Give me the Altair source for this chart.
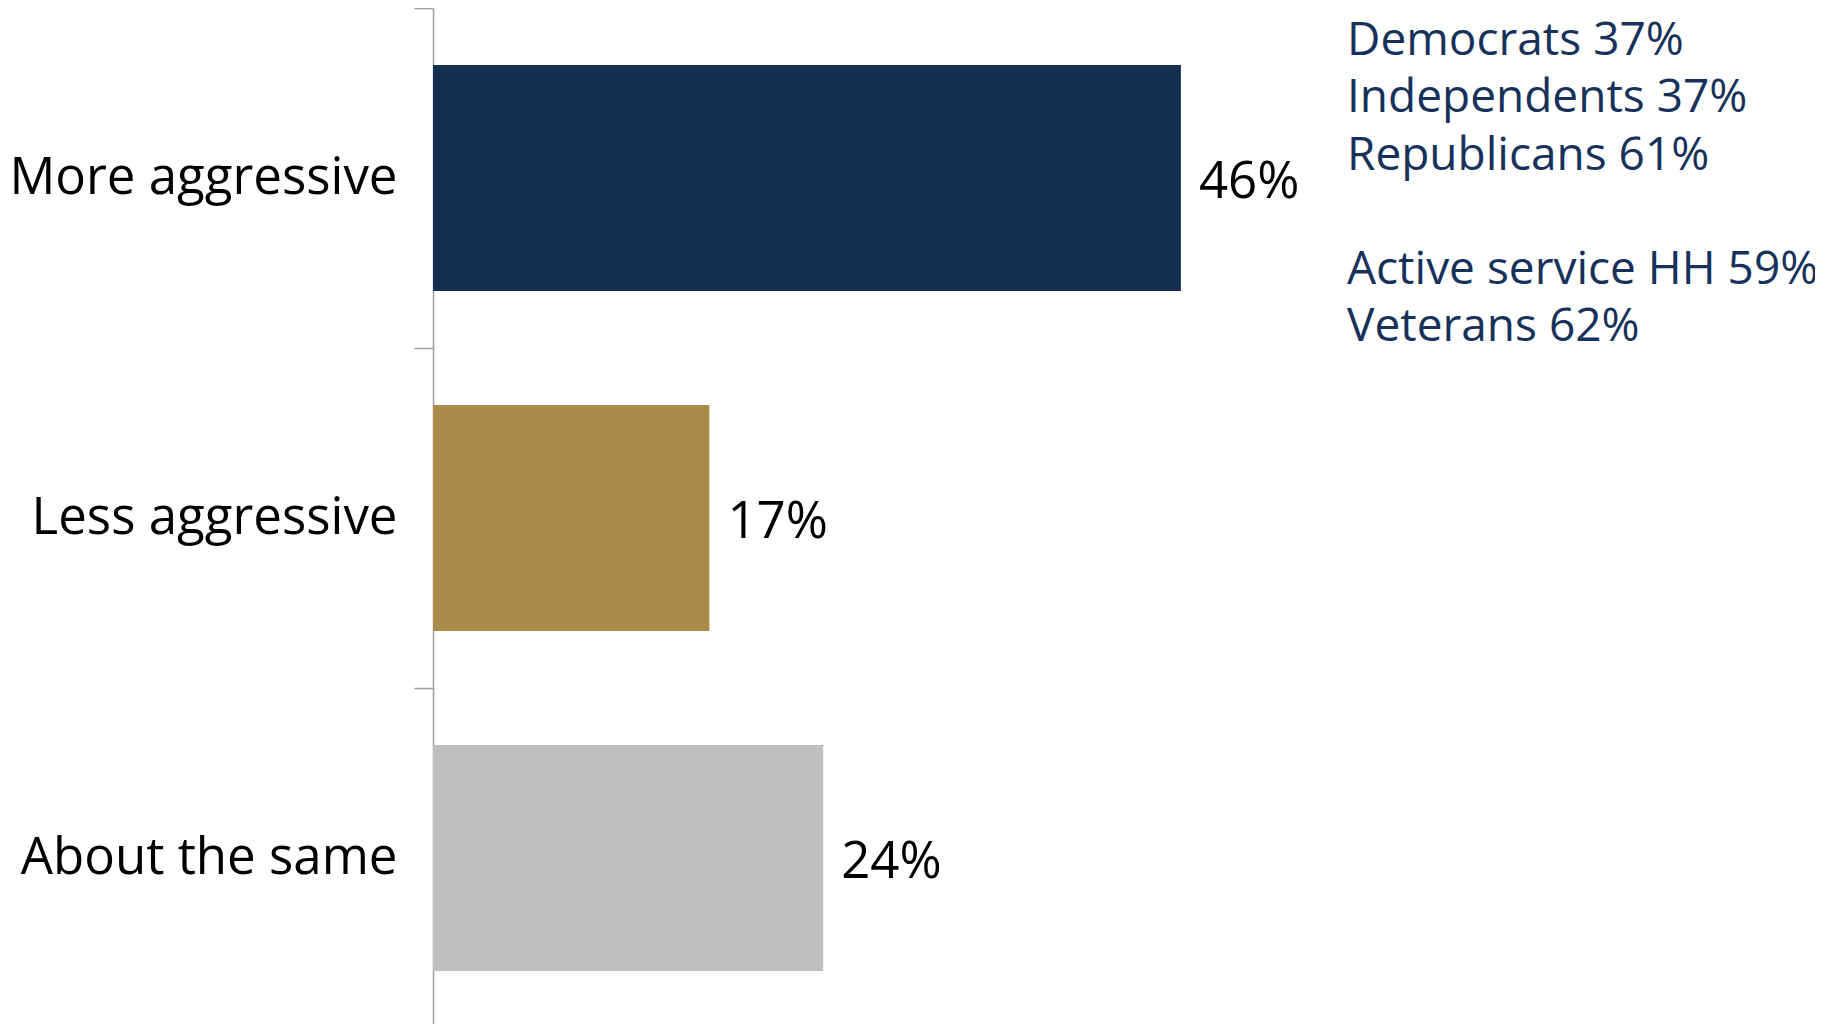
import altair as alt
import pandas as pd

categories = ["More aggressive", "Less aggressive", "About the same"]
values = [46, 17, 24]
labels = ["46%", "17%", "24%"]
colors = ["#152F52", "#AB8B4A", "#BFBFBF"]

party_lines = ["Democrats 37%", "Independents 37%", "Republicans 61%"]
military_lines = ["Active service HH 59%", "Veterans 62%"]

df = pd.DataFrame({"category": categories, "value": values, "label": labels, "color": colors})
party_df = pd.DataFrame({"text": ["\n".join(party_lines)]})
military_df = pd.DataFrame({"text": ["\n".join(military_lines)]})

FONT = "Open Sans"
LINE_H = 57.3

y_enc = alt.Y(
    "category:N",
    sort=categories,
    scale=alt.Scale(paddingInner=0, paddingOuter=0),
    axis=alt.Axis(
        title=None,
        tickBand="extent",
        tickSize=19,
        tickColor="#A0A0A0",
        tickWidth=1.5,
        domainColor="#A0A0A0",
        domainWidth=1.5,
        labelFont=FONT,
        labelFontSize=51,
        labelColor="#000000",
        labelPadding=17,
        labelLimit=1000,
    ),
)
x_enc = alt.X("value:Q", scale=alt.Scale(domain=[0, 85], nice=False), axis=None)

bars = alt.Chart(df).mark_bar(size=226).encode(
    y=y_enc,
    x=x_enc,
    color=alt.Color("color:N", scale=None, legend=None),
)

bar_text = alt.Chart(df).mark_text(
    align="left", baseline="middle", dx=18, dy=5, font=FONT, fontSize=51, color="#000000"
).encode(
    y=y_enc,
    x=x_enc,
    text="label:N",
)


def note_block(frame, y_px):
    return alt.Chart(frame).mark_text(
        align="left",
        baseline="alphabetic",
        lineBreak="\n",
        lineHeight=LINE_H,
        font=FONT,
        fontSize=46,
        color="#17325A",
    ).encode(
        x=alt.value(914),
        y=alt.value(y_px),
        text="text:N",
    )


note1 = note_block(party_df, 47)
note2 = note_block(military_df, 47 + 4 * LINE_H)

chart = (
    alt.layer(bars, bar_text, note1, note2)
    .properties(
        width=1382,
        height=1020,
        background="#FFFFFF",
        autosize=alt.AutoSizeParams(type="none"),
        padding={"left": 425, "top": 0, "right": 0, "bottom": 0},
    )
    .configure_view(stroke=None, strokeWidth=0)
)

chart.save("out.html", embed_options={"renderer": "svg", "actions": False})
